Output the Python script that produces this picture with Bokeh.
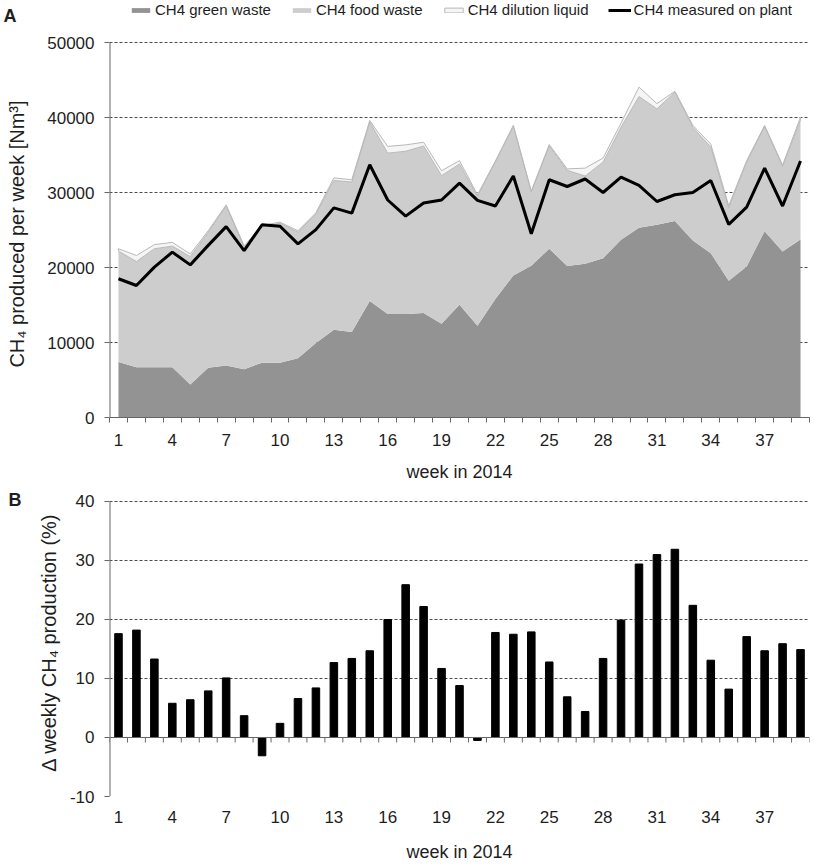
from bokeh.plotting import figure
from bokeh.models import (ColumnDataSource, FixedTicker, Legend, LegendItem, Span, LinearAxis,
                          BasicTickFormatter)
from bokeh.layouts import column
from bokeh.embed import file_html
from bokeh.resources import INLINE

weeks = list(range(1, 40))
tick_weeks = list(range(1, 40, 3))

green_waste = [7400, 6700, 6700, 6700, 4400, 6650, 6950, 6450, 7300, 7300, 7900, 9950, 11700,
               11400, 15550, 13800, 13800, 13950, 12500, 15050, 12250, 15800, 18950, 20250, 22500,
               20200, 20500, 21250, 23700, 25300, 25700, 26200, 23600, 21900, 18250, 20150, 24850,
               22150, 23750]
food_waste = [14800, 14100, 15800, 16150, 17050, 18050, 21250, 16250, 18100, 18600, 16800, 17200,
              19900, 20000, 23850, 21450, 21700, 22250, 19750, 18750, 17250, 18250, 19900, 9800,
              13700, 12750, 11700, 12800, 15000, 17500, 15450, 17200, 15100, 14150, 9700, 13900,
              13950, 11300, 15950]
dilution_liquid = [300, 800, 550, 500, 350, 200, 150, 200, 200, 150, 200, 150, 350, 300, 200, 900,
                   850, 500, 650, 450, 200, 150, 100, 150, 200, 200, 1050, 550, 550, 1250, 700, 100,
                   250, 400, 300, 200, 150, 200, 350]
measured_on_plant = [18500, 17600, 20050, 22050, 20350, 22950, 25450, 22250, 25700, 25500, 23150,
                     25050, 27950, 27250, 33700, 29000, 26850, 28600, 29000, 31250, 28950, 28200,
                     32200, 24500, 31700, 30800, 31800, 30000, 32050, 30950, 28800, 29700, 30000,
                     31600, 25750, 28050, 33250, 28200, 34200]
delta_weekly = [17.6, 18.2, 13.3, 5.8, 6.4, 7.9, 10.1, 3.7, -3.1, 2.4, 6.6, 8.4, 12.7, 13.4, 14.7,
                20.0, 25.9, 22.2, 11.7, 8.8, -0.5, 17.8, 17.5, 17.9, 12.8, 6.9, 4.4, 13.4, 19.9,
                29.4, 31.0, 31.9, 22.4, 13.1, 8.2, 17.1, 14.7, 15.9, 14.9]
ticks_a = [0, 10000, 20000, 30000, 40000, 50000]
ticks_b = [-10, 0, 10, 20, 30, 40]

FONT = "Liberation Sans"
TXT = "#1e1e1e"
AX = "#666666"
GRID = "#4d4d4d"

src = ColumnDataSource(dict(week=weeks, green=green_waste, food=food_waste,
                            dil=dilution_liquid, measured=measured_on_plant))


def style_axis(ax):
    ax.axis_line_color = AX
    ax.major_tick_line_color = AX
    ax.minor_tick_line_color = AX
    ax.major_label_text_font = FONT
    ax.major_label_text_font_size = "17px"
    ax.major_label_text_color = TXT
    ax.axis_label_text_font = FONT
    ax.axis_label_text_font_style = "normal"
    ax.axis_label_text_color = TXT


def letter_axis(pos, letter, standoff):
    ax = LinearAxis(ticker=FixedTicker(ticks=[pos]), major_label_overrides={pos: letter})
    ax.axis_line_color = None
    ax.major_tick_line_color = None
    ax.minor_tick_line_color = None
    ax.major_tick_in = 0
    ax.major_tick_out = 0
    ax.minor_tick_in = 0
    ax.minor_tick_out = 0
    ax.major_label_standoff = standoff
    ax.major_label_text_font = FONT
    ax.major_label_text_font_size = "18px"
    ax.major_label_text_font_style = "bold"
    ax.major_label_text_color = TXT
    return ax


# ---------------- Panel A ----------------
# frame reaches the top of the canvas so that the legend inside it is not clipped
p1 = figure(width=814, height=488, x_range=(0.5, 39.5), y_range=(0, 55600),
            output_backend="svg", toolbar_location=None,
            min_border_left=108, min_border_right=4, min_border_top=0, min_border_bottom=71)
p1.outline_line_color = None
p1.xgrid.visible = False
p1.ygrid.grid_line_dash = "3 2"
p1.ygrid.grid_line_color = GRID

r_green, r_food = p1.varea_stack(["green", "food"], x="week", color=["#939393", "#cdcdcd"],
                                 source=src)
food_top = [g + f for g, f in zip(green_waste, food_waste)]
dil_top = [t + d for t, d in zip(food_top, dilution_liquid)]
r_dil = p1.patch(weeks + weeks[::-1], dil_top + food_top[::-1], fill_color="#f5f5f5",
                 line_color="#b8b8b8", line_width=1)
r_meas = p1.line("week", "measured", source=src, line_color="black", line_width=3)
# y axis line, stopping at the top tick
p1.segment(x0=[0.5], y0=[ticks_a[0]], x1=[0.5], y1=[ticks_a[-1]], line_color=AX, line_width=2)

ya1 = p1.yaxis[0]
xa1 = p1.xaxis[0]
ya1.ticker = FixedTicker(ticks=ticks_a)
ya1.formatter = BasicTickFormatter(use_scientific=False)
xa1.ticker = FixedTicker(ticks=tick_weeks, minor_ticks=[w - 0.5 for w in weeks] + [39.5])
style_axis(xa1)
style_axis(ya1)
ya1.axis_line_color = None
xa1.major_tick_in = 0
xa1.major_tick_out = 0
xa1.minor_tick_in = 0
xa1.minor_tick_out = 5
xa1.major_label_standoff = 11
xa1.axis_label = "week in 2014"
xa1.axis_label_text_font_size = "18px"
xa1.axis_label_standoff = 13
ya1.major_tick_in = 0
ya1.major_tick_out = 5
ya1.minor_tick_line_color = None
ya1.major_label_standoff = 10
ya1.axis_label = "CH\u2084 produced per week [Nm\u00b3]" + "\u00a0" * 9
ya1.axis_label_text_font_size = "20px"
ya1.axis_label_standoff = 16

p1.add_layout(letter_axis(53600, "A", -13), "left")

legend = Legend(items=[
    LegendItem(label="CH4 green waste", renderers=[r_green]),
    LegendItem(label="CH4 food waste", renderers=[r_food]),
    LegendItem(label="CH4 dilution liquid", renderers=[r_dil]),
    LegendItem(label="CH4 measured on plant", renderers=[r_meas]),
], orientation="horizontal", location=(20, 399))
legend.background_fill_alpha = 0
legend.border_line_color = None
legend.padding = 0
legend.margin = 0
legend.spacing = 19
legend.label_standoff = 3
legend.glyph_width = 23
legend.glyph_height = 6
legend.label_height = 14
legend.label_text_font = FONT
legend.label_text_font_size = "15px"
legend.label_text_color = TXT
p1.add_layout(legend)

# ---------------- Panel B ----------------
src2 = ColumnDataSource(dict(week=weeks, delta=delta_weekly))
p2 = figure(width=814, height=379, x_range=(0.5, 39.5), y_range=(-10, 42.2),
            output_backend="svg", toolbar_location=None,
            min_border_left=106, min_border_right=5, min_border_top=0, min_border_bottom=71)
p2.outline_line_color = None
p2.xgrid.visible = False
p2.ygrid.grid_line_dash = "3 2"
p2.ygrid.grid_line_color = GRID
p2.ygrid.ticker = FixedTicker(ticks=[t for t in ticks_b if t != 0])

p2.vbar(x="week", top="delta", width=0.42, color="black", source=src2)
p2.add_layout(Span(location=0, dimension="width", line_color=AX, line_width=1))
bounds = [w - 0.5 for w in weeks] + [39.5]
p2.segment(x0=bounds, y0=[0] * len(bounds), x1=bounds, y1=[-0.85] * len(bounds),
           line_color=AX, line_width=1)
p2.segment(x0=[0.5], y0=[ticks_b[0]], x1=[0.5], y1=[ticks_b[-1]], line_color=AX, line_width=2)

ya2 = p2.yaxis[0]
xa2 = p2.xaxis[0]
ya2.ticker = FixedTicker(ticks=ticks_b)
ya2.major_label_overrides = {-10: "-10"}
xa2.ticker = FixedTicker(ticks=tick_weeks)
style_axis(xa2)
style_axis(ya2)
ya2.axis_line_color = None
ya2.minor_tick_line_color = None
xa2.axis_line_color = None
xa2.major_tick_line_color = None
xa2.minor_tick_line_color = None
xa2.major_tick_in = 0
xa2.major_tick_out = 0
xa2.minor_tick_in = 0
xa2.minor_tick_out = 0
xa2.major_label_standoff = 14
xa2.axis_label = "week in 2014"
xa2.axis_label_text_font_size = "18px"
xa2.axis_label_standoff = 16
ya2.major_tick_in = 0
ya2.major_tick_out = 5
ya2.major_label_standoff = 10
ya2.axis_label = "\u0394 weekly CH\u2084 production (%)"
ya2.axis_label_text_font_size = "20px"
ya2.axis_label_standoff = 7

p2.add_layout(letter_axis(40.7, "B", 13), "left")

layout = column(p1, p2, spacing=0)
open("out.html", "w").write(file_html(layout, INLINE))
